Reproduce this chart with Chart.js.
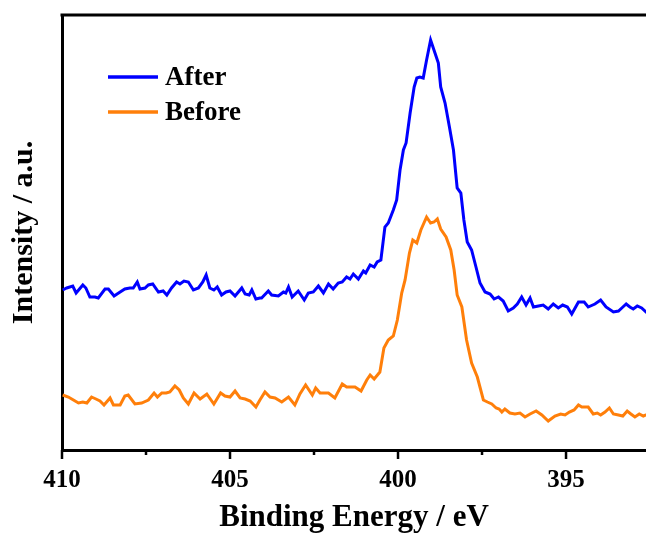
<!DOCTYPE html>
<html>
<head>
<meta charset="utf-8">
<script src="https://cdn.jsdelivr.net/npm/chart.js@4/dist/chart.umd.min.js"></script>
<style>
  html, body { margin: 0; padding: 0; background: #ffffff; overflow: hidden; }
  #wrap { width: 646px; height: 533px; position: relative; }
</style>
</head>
<body>
<div id="wrap"><canvas id="xpsChart"></canvas></div>
<script>
// N 1s spectra, binding energy (eV) vs intensity (a.u., offset for stacking)
const afterEnergy = [
  409.98, 409.86, 409.68, 409.58, 409.38, 409.29, 409.17, 409.02, 408.92, 408.72,
  408.62, 408.45, 408.27, 408.13, 407.98, 407.88, 407.76, 407.68, 407.53, 407.43,
  407.30, 407.13, 406.99, 406.88, 406.74, 406.59, 406.49, 406.37, 406.24, 406.09,
  405.94, 405.81, 405.71, 405.60, 405.48, 405.38, 405.25, 405.12, 405.00, 404.85,
  404.65, 404.55, 404.43, 404.35, 404.23, 404.11, 404.06, 403.86, 403.76, 403.56,
  403.41, 403.34, 403.26, 403.15, 402.97, 402.79, 402.67, 402.52, 402.37, 402.22,
  402.07, 401.93, 401.78, 401.66, 401.53, 401.43, 401.33, 401.18, 401.03, 400.96,
  400.83, 400.71, 400.62, 400.51, 400.39, 400.29, 400.14, 400.04, 399.94, 399.84,
  399.76, 399.64, 399.52, 399.44, 399.35, 399.25, 399.15, 399.03, 398.90, 398.80,
  398.73, 398.60, 398.47, 398.35, 398.24, 398.13, 398.04, 397.94, 397.81, 397.68,
  397.56, 397.41, 397.26, 397.14, 397.01, 396.87, 396.72, 396.57, 396.45, 396.32,
  396.19, 396.07, 395.97, 395.82, 395.68, 395.53, 395.38, 395.23, 395.10, 394.96,
  394.83, 394.63, 394.46, 394.34, 394.14, 393.97, 393.81, 393.59, 393.44, 393.34,
  393.21, 393.10, 393.00, 392.88, 392.75, 392.62, 392.50
];
const afterIntensity = [
  160, 162, 164, 157, 165, 162, 153, 153, 152, 161,
  161, 154, 158, 161, 162, 162, 168, 161, 162, 165,
  166, 158, 159, 155, 162, 168, 166, 169, 168, 160,
  162, 168, 175, 162, 160, 163, 155, 158, 159, 154,
  162, 156, 155, 160, 151, 152, 152, 159, 155, 154,
  158, 157, 163, 153, 159, 150, 157, 158, 164, 157,
  166, 161, 167, 168, 173, 171, 176, 171, 179, 177,
  185, 183, 188, 190, 223, 227, 240, 250, 280, 300,
  307, 337, 363, 372, 373, 372, 390, 410, 397, 387,
  363, 347, 323, 300, 262, 257, 230, 208, 200, 183,
  167, 158, 156, 151, 153, 149, 139, 142, 146, 153,
  145, 152, 143, 144, 145, 141, 146, 142, 145, 143,
  136, 148, 148, 143, 146, 150, 143, 138, 139, 142,
  146, 143, 141, 144, 142, 138, 140
];

const beforeEnergy = [
  409.98, 409.81, 409.66, 409.51, 409.38, 409.26, 409.12, 408.99, 408.87, 408.75,
  408.57, 408.47, 408.27, 408.13, 408.03, 407.83, 407.63, 407.43, 407.26, 407.16,
  407.03, 406.90, 406.79, 406.64, 406.51, 406.39, 406.24, 406.07, 405.89, 405.69,
  405.48, 405.28, 405.15, 405.00, 404.85, 404.70, 404.55, 404.40, 404.23, 404.11,
  403.96, 403.81, 403.66, 403.46, 403.26, 403.07, 402.92, 402.75, 402.55, 402.45,
  402.32, 402.07, 401.88, 401.66, 401.53, 401.28, 401.10, 400.93, 400.83, 400.71,
  400.54, 400.42, 400.29, 400.14, 400.02, 399.89, 399.79, 399.66, 399.56, 399.44,
  399.32, 399.15, 399.03, 398.93, 398.83, 398.73, 398.57, 398.43, 398.33, 398.24,
  398.10, 397.96, 397.81, 397.64, 397.46, 397.34, 397.21, 397.08, 396.99, 396.91,
  396.82, 396.67, 396.52, 396.37, 396.22, 396.07, 395.89, 395.72, 395.53, 395.33,
  395.16, 395.03, 394.90, 394.76, 394.63, 394.53, 394.34, 394.19, 394.07, 393.97,
  393.84, 393.71, 393.59, 393.44, 393.31, 393.18, 393.07, 392.95, 392.82, 392.70,
  392.62, 392.50
];
const beforeIntensity = [
  55, 53, 50, 47, 48, 47, 53, 51, 49, 45,
  52, 45, 45, 54, 55, 46, 47, 50, 57, 53,
  57, 57, 58, 64, 60, 52, 46, 57, 51, 56,
  46, 57, 54, 53, 59, 52, 51, 49, 43, 50,
  58, 53, 52, 48, 53, 45, 56, 65, 55, 62,
  57, 57, 52, 66, 63, 63, 59, 70, 75, 71,
  78, 102, 110, 114, 130, 157, 170, 197, 210, 207,
  220, 233, 227, 228, 231, 221, 213, 200, 180, 155,
  143, 110, 87, 73, 50, 48, 46, 42, 41, 38,
  41, 37, 36, 37, 33, 36, 39, 35, 29, 34,
  36, 35, 38, 40, 45, 43, 43, 36, 37, 35,
  38, 42, 36, 35, 34, 39, 36, 33, 36, 34,
  35, 36
];

const xMin = 392.62;
const xMax = 410;
const yMin = 0;
const yMax = 435;

const seriesLabels = ['After', 'Before'];
const seriesColors = ['#0000ff', '#ff7f0a'];

const serif = '"Liberation Serif", "Times New Roman", serif';

function toPoints(xs, ys) {
  return xs.map((x, i) => ({ x: x, y: ys[i] }));
}

// top frame line, outward tick marks (long at 5 eV, short in between) and the legend
const framePlugin = {
  id: 'frame',
  afterDraw: (chart) => {
    const ctx = chart.ctx;
    const area = chart.chartArea;
    const xScale = chart.scales.x;
    ctx.save();
    ctx.strokeStyle = '#000000';
    ctx.lineWidth = 3;
    ctx.beginPath();
    ctx.moveTo(area.left - 1.5, area.top);
    ctx.lineTo(area.right, area.top);
    ctx.stroke();

    ctx.lineWidth = 2.5;
    xScale.ticks.forEach((t) => {
      const px = xScale.getPixelForValue(t.value);
      const len = Math.abs(t.value % 5) < 1e-6 ? 9 : 5;
      ctx.beginPath();
      ctx.moveTo(px, area.bottom);
      ctx.lineTo(px, area.bottom + len);
      ctx.stroke();
    });

    ctx.font = 'bold 27px ' + serif;
    ctx.textAlign = 'left';
    ctx.textBaseline = 'middle';
    chart.data.datasets.forEach((ds, i) => {
      const y = area.top + 62 + i * 35;
      const x0 = area.left + 46;
      ctx.strokeStyle = ds.borderColor;
      ctx.lineWidth = 3.5;
      ctx.beginPath();
      ctx.moveTo(x0, y);
      ctx.lineTo(x0 + 50, y);
      ctx.stroke();
      ctx.fillStyle = '#000000';
      ctx.fillText(ds.label, x0 + 57, y + 1);
    });
    ctx.restore();
  }
};

const ctx = document.getElementById('xpsChart').getContext('2d');
new Chart(ctx, {
  type: 'line',
  data: {
    datasets: [
      {
        label: seriesLabels[0],
        data: toPoints(afterEnergy, afterIntensity),
        borderColor: seriesColors[0],
        borderWidth: 3,
        pointRadius: 0,
        tension: 0,
        fill: false
      },
      {
        label: seriesLabels[1],
        data: toPoints(beforeEnergy, beforeIntensity),
        borderColor: seriesColors[1],
        borderWidth: 3,
        pointRadius: 0,
        tension: 0,
        fill: false
      }
    ]
  },
  options: {
    responsive: true,
    maintainAspectRatio: false,
    animation: false,
    layout: { padding: { top: 15, right: 0, left: 0, bottom: 0 } },
    plugins: {
      legend: { display: false },
      tooltip: { enabled: false }
    },
    scales: {
      x: {
        type: 'linear',
        reverse: true,
        min: xMin,
        max: xMax,
        afterFit: (scale) => { scale.height = 83; },
        grid: { display: false },
        border: { display: true, color: '#000000', width: 3 },
        ticks: {
          stepSize: 2.5,
          includeBounds: false,
          maxRotation: 0,
          autoSkip: false,
          padding: 8,
          color: '#000000',
          font: { family: serif, size: 25, weight: 'bold' },
          callback: (v) => (Math.abs(v % 5) < 1e-6 ? String(v) : '')
        },
        title: {
          display: true,
          text: 'Binding Energy / eV',
          color: '#000000',
          font: { family: serif, size: 31, weight: 'bold' },
          padding: { top: 0, bottom: -4 }
        }
      },
      y: {
        min: yMin,
        max: yMax,
        afterFit: (scale) => { scale.width = 62; },
        grid: { display: false },
        border: { display: true, color: '#000000', width: 3 },
        ticks: { display: false },
        title: {
          display: true,
          text: 'Intensity / a.u.',
          color: '#000000',
          font: { family: serif, size: 30, weight: 'bold' },
          padding: { top: 6, bottom: 0 }
        }
      }
    }
  },
  plugins: [framePlugin]
});
</script>
</body>
</html>
